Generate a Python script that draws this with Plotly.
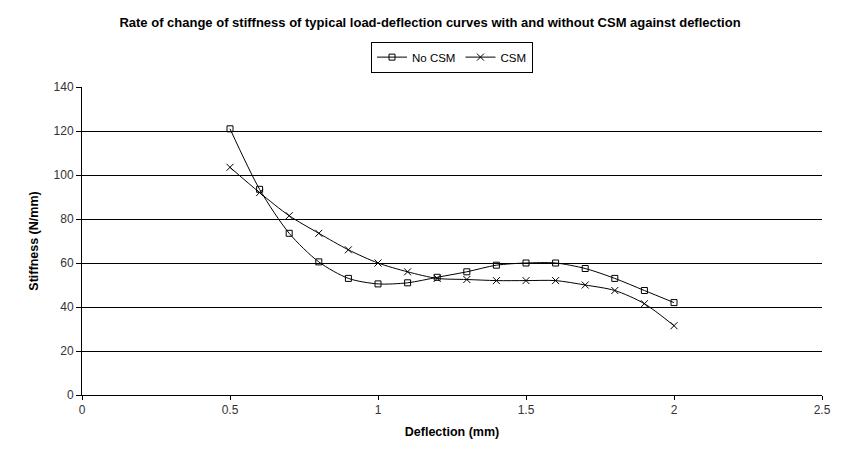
import plotly.graph_objects as go

deflection = [0.5, 0.6, 0.7, 0.8, 0.9, 1.0, 1.1, 1.2, 1.3, 1.4, 1.5, 1.6, 1.7, 1.8, 1.9, 2.0]
no_csm = [121, 93.5, 73.5, 60.5, 53, 50.5, 51, 53.5, 56, 59, 60, 60, 57.5, 53, 47.5, 42]
csm = [103.5, 92, 81.5, 73.5, 66, 60, 56, 53, 52.5, 52, 52, 52, 50, 47.5, 41.5, 31.5]

font = "Liberation Sans, Arial, sans-serif"

fig = go.Figure()
fig.add_trace(go.Scatter(x=deflection, y=no_csm, name="No CSM", mode="lines+markers",
                         line=dict(color="black", width=1, shape="spline", smoothing=0.8),
                         marker=dict(symbol="square-open", size=6, color="black", line=dict(width=1))))
fig.add_trace(go.Scatter(x=deflection, y=csm, name="CSM", mode="lines+markers",
                         line=dict(color="black", width=1, shape="spline", smoothing=0.8),
                         marker=dict(symbol="x-thin-open", size=7, color="black", line=dict(width=1, color="black"))))

fig.update_layout(
    width=860, height=456,
    margin=dict(l=82, r=38, t=87, b=61),
    paper_bgcolor="white", plot_bgcolor="white",
    font=dict(family=font, size=12, color="black"),
    title=dict(text="<b>Rate of change of stiffness of typical load-deflection curves with and without CSM against deflection</b>",
               x=0.5, xanchor="center", y=0.95, yanchor="middle", font=dict(size=13)),
    legend=dict(orientation="h", x=0.5, xanchor="center", y=1.097, yanchor="middle",
                bordercolor="black", borderwidth=1, font=dict(size=11.5),
                itemwidth=30, tracegroupgap=0),
    xaxis=dict(range=[0, 2.5], dtick=0.5, showgrid=False, showline=True, linecolor="black", linewidth=1,
               ticks="outside", ticklen=4, tickcolor="black", zeroline=False,
               title=dict(text="<b>Deflection (mm)</b>", font=dict(size=12.5), standoff=10),
               tickfont=dict(size=12, color="#333")),
    yaxis=dict(range=[0, 140], dtick=20, showgrid=True, gridcolor="black", gridwidth=1,
               showline=True, linecolor="black", linewidth=1,
               ticks="outside", ticklen=5, tickcolor="black", zeroline=False,
               title=dict(text="<b>Stiffness (N/mm)</b>", font=dict(size=12.5), standoff=12),
               tickfont=dict(size=12, color="#333")),
)

fig.write_html("out.html")
